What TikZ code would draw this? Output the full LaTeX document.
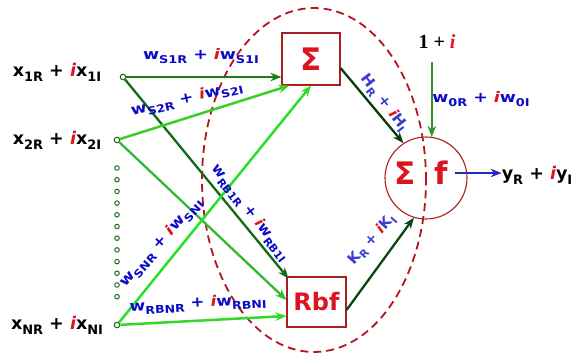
\documentclass[tikz,border=0pt]{standalone}
\usepackage{fontspec}
\setmainfont{DejaVu Sans}
\newfontfamily\serf{Liberation Serif}
\usetikzlibrary{arrows.meta,calc}
\definecolor{gA}{RGB}{25,125,25}
\definecolor{gB}{RGB}{20,105,20}
\definecolor{gC}{RGB}{60,205,40}
\definecolor{gD}{RGB}{50,185,50}
\definecolor{gE}{RGB}{40,225,40}
\definecolor{gF}{RGB}{55,215,40}
\definecolor{gG}{RGB}{10,60,10}
\definecolor{gH}{RGB}{10,70,20}
\definecolor{gbias}{RGB}{40,150,40}
\definecolor{oblue}{RGB}{40,40,190}
\definecolor{wblue}{RGB}{10,10,200}
\definecolor{hblue}{RGB}{60,60,210}
\definecolor{ired}{RGB}{220,20,30}
\definecolor{boxred}{RGB}{170,30,30}
\definecolor{ered}{RGB}{180,20,30}
\definecolor{dgreen}{RGB}{30,110,30}
\newcommand\sbs[1]{\raisebox{-0.28em}{\scalebox{0.74}{#1}}}
\newcommand\ii{{\color{ired}\itshape i}}
\newcommand\sx[2]{\scalebox{#1}[1]{#2}}
\begin{document}
\begin{tikzpicture}[x=1pt,y=-1pt,
  xlab/.style={font=\bfseries\fontsize{17.5}{19}\selectfont, text=black, inner sep=0},
  wlab/.style={font=\bfseries\fontsize{14.5}{16}\selectfont, text=wblue, inner sep=0},
  hlab/.style={wlab, text=hblue},
  inp/.style={circle, draw=dgreen, fill=white, line width=1.1pt, minimum size=5.5pt, inner sep=0},
  dotc/.style={circle, draw=dgreen, line width=1pt, minimum size=4.5pt, inner sep=0},
  boxn/.style={draw=boxred, line width=1.1pt, text=ired, font=\bfseries},
  ar/.style={-{Stealth[length=11pt,width=8.5pt]}},
  ell/.style={draw=ered, line width=1.8pt, dash pattern=on 8pt off 5pt}
]
\useasboundingbox (0,0) rectangle (575,353);
% dashed ellipse
\draw[ell] (314,180) ellipse [x radius=112pt, y radius=172pt];
% input labels
\node[xlab] (x1) at (57,72) {x\sbs{1R} + \ii x\sbs{1I}};
\node[xlab] (x2) at (57,140) {x\sbs{2R} + \ii x\sbs{2I}};
\node[xlab] (xN) at (57,325) {x\sbs{NR} + \ii x\sbs{NI}};
% input nodes
\node[inp] (in1) at (123,77) {};
\node[inp] (in2) at (117,140) {};
\node[inp] (inN) at (117,325) {};
\foreach \k in {0,...,11} \node[dotc] (d\k) at (117,168+11.7*\k) {};
% boxes
\node[boxn, minimum width=58pt, minimum height=52pt, font=\bfseries\fontsize{31}{31}\selectfont] (sig) at (311,59) {Σ};
\node[boxn, minimum width=59pt, minimum height=50pt, font=\bfseries\fontsize{24}{24}\selectfont] (rbf) at (316.5,302) {Rbf};
\node[circle, draw=boxred, line width=1.1pt, minimum size=82pt, inner sep=0] (out) at (426,178) {};
\node[text=ired, font=\bfseries\fontsize{31}{31}\selectfont, inner sep=0] (osig) at (405,173) {Σ};
\node[text=ired, font=\bfseries\fontsize{31}{31}\selectfont, inner sep=0] (of) at (441,173) {f};
% connectors
\draw[ar, line width=2.6pt, draw=gA] (in1) -- (sig.west |- in1);
\draw[ar, line width=2.3pt, draw=gB] (in1) -- ($(rbf.north west)+(2,2)$);
\draw[ar, line width=2.5pt, draw=gC] (in2) -- ($(sig.south west)+(8,0)$);
\draw[ar, line width=2.3pt, draw=gD] (in2) -- ($(rbf.west)+(0,-2)$);
\draw[ar, line width=2.5pt, draw=gE] (inN) -- (sig.south);
\draw[ar, line width=2.5pt, draw=gF] (inN) -- ($(rbf.west)+(0,14)$);
\draw[ar, line width=2.3pt, draw=gG] ($(sig.east)+(0,9)$) -- (out.123);
\draw[ar, line width=2.3pt, draw=gH] ($(rbf.east)+(0,8)$) -- (out.253);
\coordinate (bias) at ($(out.82)+(0,-75)$);
\draw[ar, line width=1.5pt, draw=gbias] (bias) -- (out.82);
\node[inner sep=0, font=\serf\bfseries\fontsize{20}{20}\selectfont] (one) at (437,42) {1 + \textcolor{ired}{\itshape i}};
\node[xlab] (yout) at (537,175) {y\sbs{R} + \ii y\sbs{I}};
\coordinate (ostart) at ($(out.center)+(29,-5)$);
\draw[ar, line width=1.5pt, draw=oblue] (ostart) -- (ostart -| yout.west);
% weight labels
\node[wlab] (lS1) at (201,56) {\sx{1.2}{w\sbs{S1R} + \ii w\sbs{S1I}}};
\node[wlab, rotate=13] (lS2) at (187,99) {\sx{1.18}{w\sbs{S2R} + \ii w\sbs{S2I}}};
\node[wlab, rotate=-52] (lRB1) at (250,213) {\sx{1.03}{w\sbs{RB1R} + \ii w\sbs{RB1I}}};
\node[wlab, rotate=48] (lSN) at (161,243) {\sx{1.15}{w\sbs{SNR} + \ii w\sbs{SNI}}};
\node[wlab, rotate=3] (lRBN) at (198,304) {\sx{1.17}{w\sbs{RBNR} + \ii w\sbs{RBNI}}};
\node[hlab, rotate=-52] (lH) at (384,103) {\sx{1.06}{H\sbs{R} + \ii H\sbs{I}}};
\node[hlab, rotate=48] (lK) at (372,240) {K\sbs{R} + \ii K\sbs{I}};
\node[wlab] (l0) at (481,99) {\sx{1.2}{w\sbs{0R} + \ii w\sbs{0I}}};
\end{tikzpicture}
\end{document}
